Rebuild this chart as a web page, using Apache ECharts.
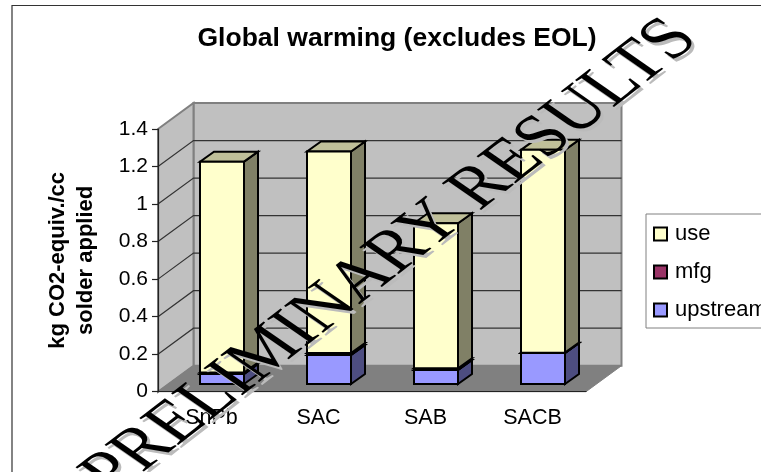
<!DOCTYPE html>
<html>
<head>
<meta charset="utf-8">
<style>html,body{margin:0;padding:0;background:#fff}#chart{width:761px;height:472px}</style>
<script src="https://cdn.jsdelivr.net/npm/echarts@6/dist/echarts.min.js"></script>
</head>
<body>
<div id="chart"></div>
<script>
const categories = ['SnPb', 'SAC', 'SAB', 'SACB'];
const upstream = [0.053, 0.155, 0.075, 0.165];
const mfg = [0.008, 0.01, 0.009, 0.002];
const use = [1.124, 1.074, 0.773, 1.081];
const yTicks = [0, 0.2, 0.4, 0.6, 0.8, 1, 1.2, 1.4];

// Oblique projection of the floor depth, in pixels
const DEPTH_X = 35.5, DEPTH_Y = -26;
const BAR_OFFSET_X = 10.5, BAR_OFFSET_Y = -7.7;
const BAR_DEPTH_X = 14, BAR_DEPTH_Y = -10, BAR_HALF = 22;
const FONT = '"Liberation Sans", Arial, sans-serif';

const chart = echarts.init(document.getElementById('chart'), null, { renderer: 'canvas' });

function rows(lower, values) {
  return values.map((v, i) => [i, lower[i], lower[i] + v]);
}
const base0 = upstream.map(() => 0);
const base1 = upstream.slice();
const base2 = upstream.map((v, i) => v + mfg[i]);

// One extruded bar segment: front face, top face and right side
function boxRenderer(front, side, top) {
  return function (params, api) {
    const i = api.value(0);
    const lo = api.coord([i, api.value(1)]);
    const hi = api.coord([i, api.value(2)]);
    const cx = lo[0] + BAR_OFFSET_X;
    const x0 = cx - BAR_HALF, x1 = cx + BAR_HALF;
    const yLo = lo[1] + BAR_OFFSET_Y, yHi = hi[1] + BAR_OFFSET_Y;
    const stroke = { stroke: '#000', lineWidth: 2, lineJoin: 'miter' };
    return {
      type: 'group',
      children: [
        { type: 'polygon', shape: { points: [[x1, yLo], [x1 + BAR_DEPTH_X, yLo + BAR_DEPTH_Y], [x1 + BAR_DEPTH_X, yHi + BAR_DEPTH_Y], [x1, yHi]] },
          style: Object.assign({ fill: side }, stroke) },
        { type: 'polygon', shape: { points: [[x0, yHi], [x1, yHi], [x1 + BAR_DEPTH_X, yHi + BAR_DEPTH_Y], [x0 + BAR_DEPTH_X, yHi + BAR_DEPTH_Y]] },
          style: Object.assign({ fill: top }, stroke) },
        { type: 'rect', shape: { x: x0, y: yHi, width: x1 - x0, height: yLo - yHi },
          style: Object.assign({ fill: front }, stroke) }
      ]
    };
  };
}

// Side wall, back wall and floor of the chart box
function renderWalls(params, api) {
  const c = params.coordSys;
  const L = c.x, R = c.x + c.width, T = c.y, B = c.y + c.height;
  const edge = { stroke: '#808080', lineWidth: 2 };
  return {
    type: 'group',
    children: [
      { type: 'polygon', shape: { points: [[L + DEPTH_X, T + DEPTH_Y], [R + DEPTH_X, T + DEPTH_Y], [R + DEPTH_X, B + DEPTH_Y], [L + DEPTH_X, B + DEPTH_Y]] },
        style: Object.assign({ fill: '#c0c0c0' }, edge) },
      { type: 'polygon', shape: { points: [[L, T], [L + DEPTH_X, T + DEPTH_Y], [L + DEPTH_X, B + DEPTH_Y], [L, B]] },
        style: Object.assign({ fill: '#c0c0c0' }, edge) },
      { type: 'polygon', shape: { points: [[L, B], [R, B], [R + DEPTH_X, B + DEPTH_Y], [L + DEPTH_X, B + DEPTH_Y]] },
        style: { fill: '#808080', stroke: '#808080', lineWidth: 1 } }
    ]
  };
}

// Gridline running along the side wall and across the back wall
function renderGridline(params, api) {
  const c = params.coordSys;
  const p = api.coord([0, api.value(0)]);
  return {
    type: 'polyline',
    shape: { points: [[c.x, p[1]], [c.x + DEPTH_X, p[1] + DEPTH_Y], [c.x + c.width + DEPTH_X, p[1] + DEPTH_Y]] },
    style: { stroke: '#333', lineWidth: 1.2, fill: null }
  };
}

// Diagonal stamp: rotated text inside a group stretched horizontally, which shears the letters
const stampText = 'PRELIMINARY RESULTS';
const stampFont = '400 64px "Liberation Serif", "Times New Roman", serif';
const stampAngle = 46.6 * Math.PI / 180;
function stampLayer(x, y, fill, z) {
  return {
    type: 'group', x: x, y: y, scaleX: 1.185, scaleY: 0.869, silent: true, z: z,
    children: [{
      type: 'text', rotation: stampAngle, scaleY: 1.08, z: z,
      style: { text: stampText, font: stampFont, align: 'center', verticalAlign: 'middle', fill: fill }
    }]
  };
}

chart.setOption({
  animation: false,
  backgroundColor: '#fff',
  title: {
    text: 'Global warming (excludes EOL)',
    left: 392, top: 20, textAlign: 'center',
    textStyle: { fontFamily: FONT, fontSize: 26.5, fontWeight: 'bold', color: '#000' }
  },
  grid: { left: 158, top: 129, width: 428, height: 262.7, containLabel: false },
  legend: {
    left: 646, top: 214, orient: 'vertical',
    data: ['use', 'mfg', 'upstream'],
    backgroundColor: '#fff', borderColor: '#808080', borderWidth: 1,
    padding: [9, 8, 7, 7],
    itemWidth: 13, itemHeight: 13, itemGap: 16, icon: 'rect',
    textStyle: { fontFamily: FONT, fontSize: 22, color: '#000', padding: [0, 0, 0, 3] }
  },
  xAxis: {
    type: 'category', data: categories, z: 10,
    axisLine: { lineStyle: { color: '#222', width: 1.2 } },
    axisTick: { length: 6, lineStyle: { color: '#222', width: 1.2 } },
    axisLabel: { fontFamily: FONT, fontSize: 21.5, color: '#000', margin: 15 },
    splitLine: { show: false }
  },
  yAxis: {
    type: 'value', min: 0, max: 1.4, interval: 0.2, z: 10,
    name: 'kg CO2-equiv./cc\nsolder applied',
    nameLocation: 'middle', nameGap: 58.5, nameRotate: 90,
    nameTextStyle: { fontFamily: FONT, fontSize: 22, fontWeight: 'bold', color: '#000', lineHeight: 28 },
    axisLine: { show: true, lineStyle: { color: '#222', width: 1.2 } },
    axisTick: { show: true, length: 6, lineStyle: { color: '#222', width: 1.2 } },
    axisLabel: { fontFamily: FONT, fontSize: 21, color: '#000', margin: 10 },
    splitLine: { show: false }
  },
  series: [
    { type: 'custom', silent: true, z: 1, renderItem: renderWalls, data: [[0]], encode: { x: [], y: [] }, clip: false },
    { type: 'custom', silent: true, z: 1.5, renderItem: renderGridline, data: yTicks.slice(1, -1).map(v => [v]), encode: { y: 0 }, clip: false },
    { name: 'upstream', type: 'custom', z: 2, clip: false, itemStyle: { color: '#9999ff', borderColor: '#000', borderWidth: 2 },
      renderItem: boxRenderer('#9999ff', '#4d4d80', '#7373bf'), data: rows(base0, upstream), encode: { x: 0, y: [1, 2] } },
    { name: 'mfg', type: 'custom', z: 3, clip: false, itemStyle: { color: '#993366', borderColor: '#000', borderWidth: 2 },
      renderItem: boxRenderer('#000000', '#000000', '#000000'), data: rows(base1, mfg), encode: { x: 0, y: [1, 2] } },
    { name: 'use', type: 'custom', z: 4, clip: false, itemStyle: { color: '#ffffcc', borderColor: '#000', borderWidth: 2 },
      renderItem: boxRenderer('#ffffcc', '#808066', '#bfbf99'), data: rows(base2, use), encode: { x: 0, y: [1, 2] } }
  ],
  graphic: [
    { type: 'rect', z: -1, silent: true, shape: { x: 12, y: 5.5, width: 900, height: 700 },
      style: { fill: null, stroke: '#333', lineWidth: 1.2 } },
    stampLayer(394, 260, '#bbb', 100),
    stampLayer(391, 257, '#000', 101)
  ]
});
</script>
</body>
</html>
